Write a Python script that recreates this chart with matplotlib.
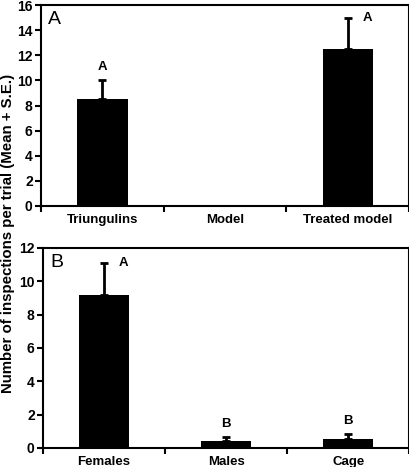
import matplotlib
matplotlib.use("Agg")
import matplotlib.pyplot as plt
from matplotlib.ticker import FixedLocator

plt.rcParams['font.family'] = ['Liberation Sans', 'DejaVu Sans']

# ---- data ------------------------------------------------------------------
cats_a = ["Triungulins", "Model", "Treated model"]
mean_a = [8.5, 0.0, 12.5]
se_a = [1.5, 0.0, 2.5]
letters_a = ["A", "", "A"]

cats_b = ["Females", "Males", "Cage"]
mean_b = [9.2, 0.4, 0.55]
se_b = [1.9, 0.25, 0.3]
letters_b = ["A", "B", "B"]

fig = plt.figure(figsize=(4.10, 4.67), dpi=100)
ax_a = fig.add_axes([0.100, 0.559, 0.898, 0.430])
ax_b = fig.add_axes([0.105, 0.041, 0.893, 0.428])


def panel(ax, cats, mean, se, letters, ymax, step, tag, letter_side):
    x = list(range(len(cats)))
    ax.bar(x, mean, width=0.41, color="black", zorder=2)
    ax.errorbar(x, mean, yerr=[[0] * len(se), se], fmt="none", ecolor="black",
                elinewidth=2, capsize=3, capthick=2, zorder=3)
    ax.set_xlim(-0.5, len(cats) - 0.5)
    ax.set_ylim(0, ymax)
    ax.set_yticks(range(0, ymax + 1, step))
    ax.set_xticks(x)
    ax.set_xticklabels(cats)
    ax.xaxis.set_minor_locator(FixedLocator([i - 0.5 for i in range(len(cats) + 1)]))
    ax.tick_params(axis="x", which="major", length=0, pad=6, labelsize=9.5)
    ax.tick_params(axis="x", which="minor", length=4, width=1.5, direction="out")
    ax.tick_params(axis="y", length=4, width=1.5, direction="out", labelsize=10, pad=2)
    for lab in ax.get_xticklabels() + ax.get_yticklabels():
        lab.set_fontweight("bold")
    for s in ax.spines.values():
        s.set_linewidth(1.5)
    ax.text(0.02, 0.97, tag, transform=ax.transAxes, ha="left", va="top", fontsize=14)
    for xi, m, e, l, side in zip(x, mean, se, letters, letter_side):
        if not l:
            continue
        if side == "right":
            ax.text(xi + 0.12, m + e, l, ha="left", va="center",
                    fontsize=9.5, fontweight="bold")
        else:
            ax.text(xi, m + e + ymax * 0.035, l, ha="center", va="bottom",
                    fontsize=9.5, fontweight="bold")


panel(ax_a, cats_a, mean_a, se_a, letters_a, 16, 2, "A", ["top", "top", "right"])
panel(ax_b, cats_b, mean_b, se_b, letters_b, 12, 2, "B", ["right", "top", "top"])

fig.text(0.02, 0.5, "Number of inspections per trial (Mean + S.E.)", rotation=90,
         ha="center", va="center", fontsize=10.8, fontweight="bold")

fig.savefig("out.png", dpi=100)
